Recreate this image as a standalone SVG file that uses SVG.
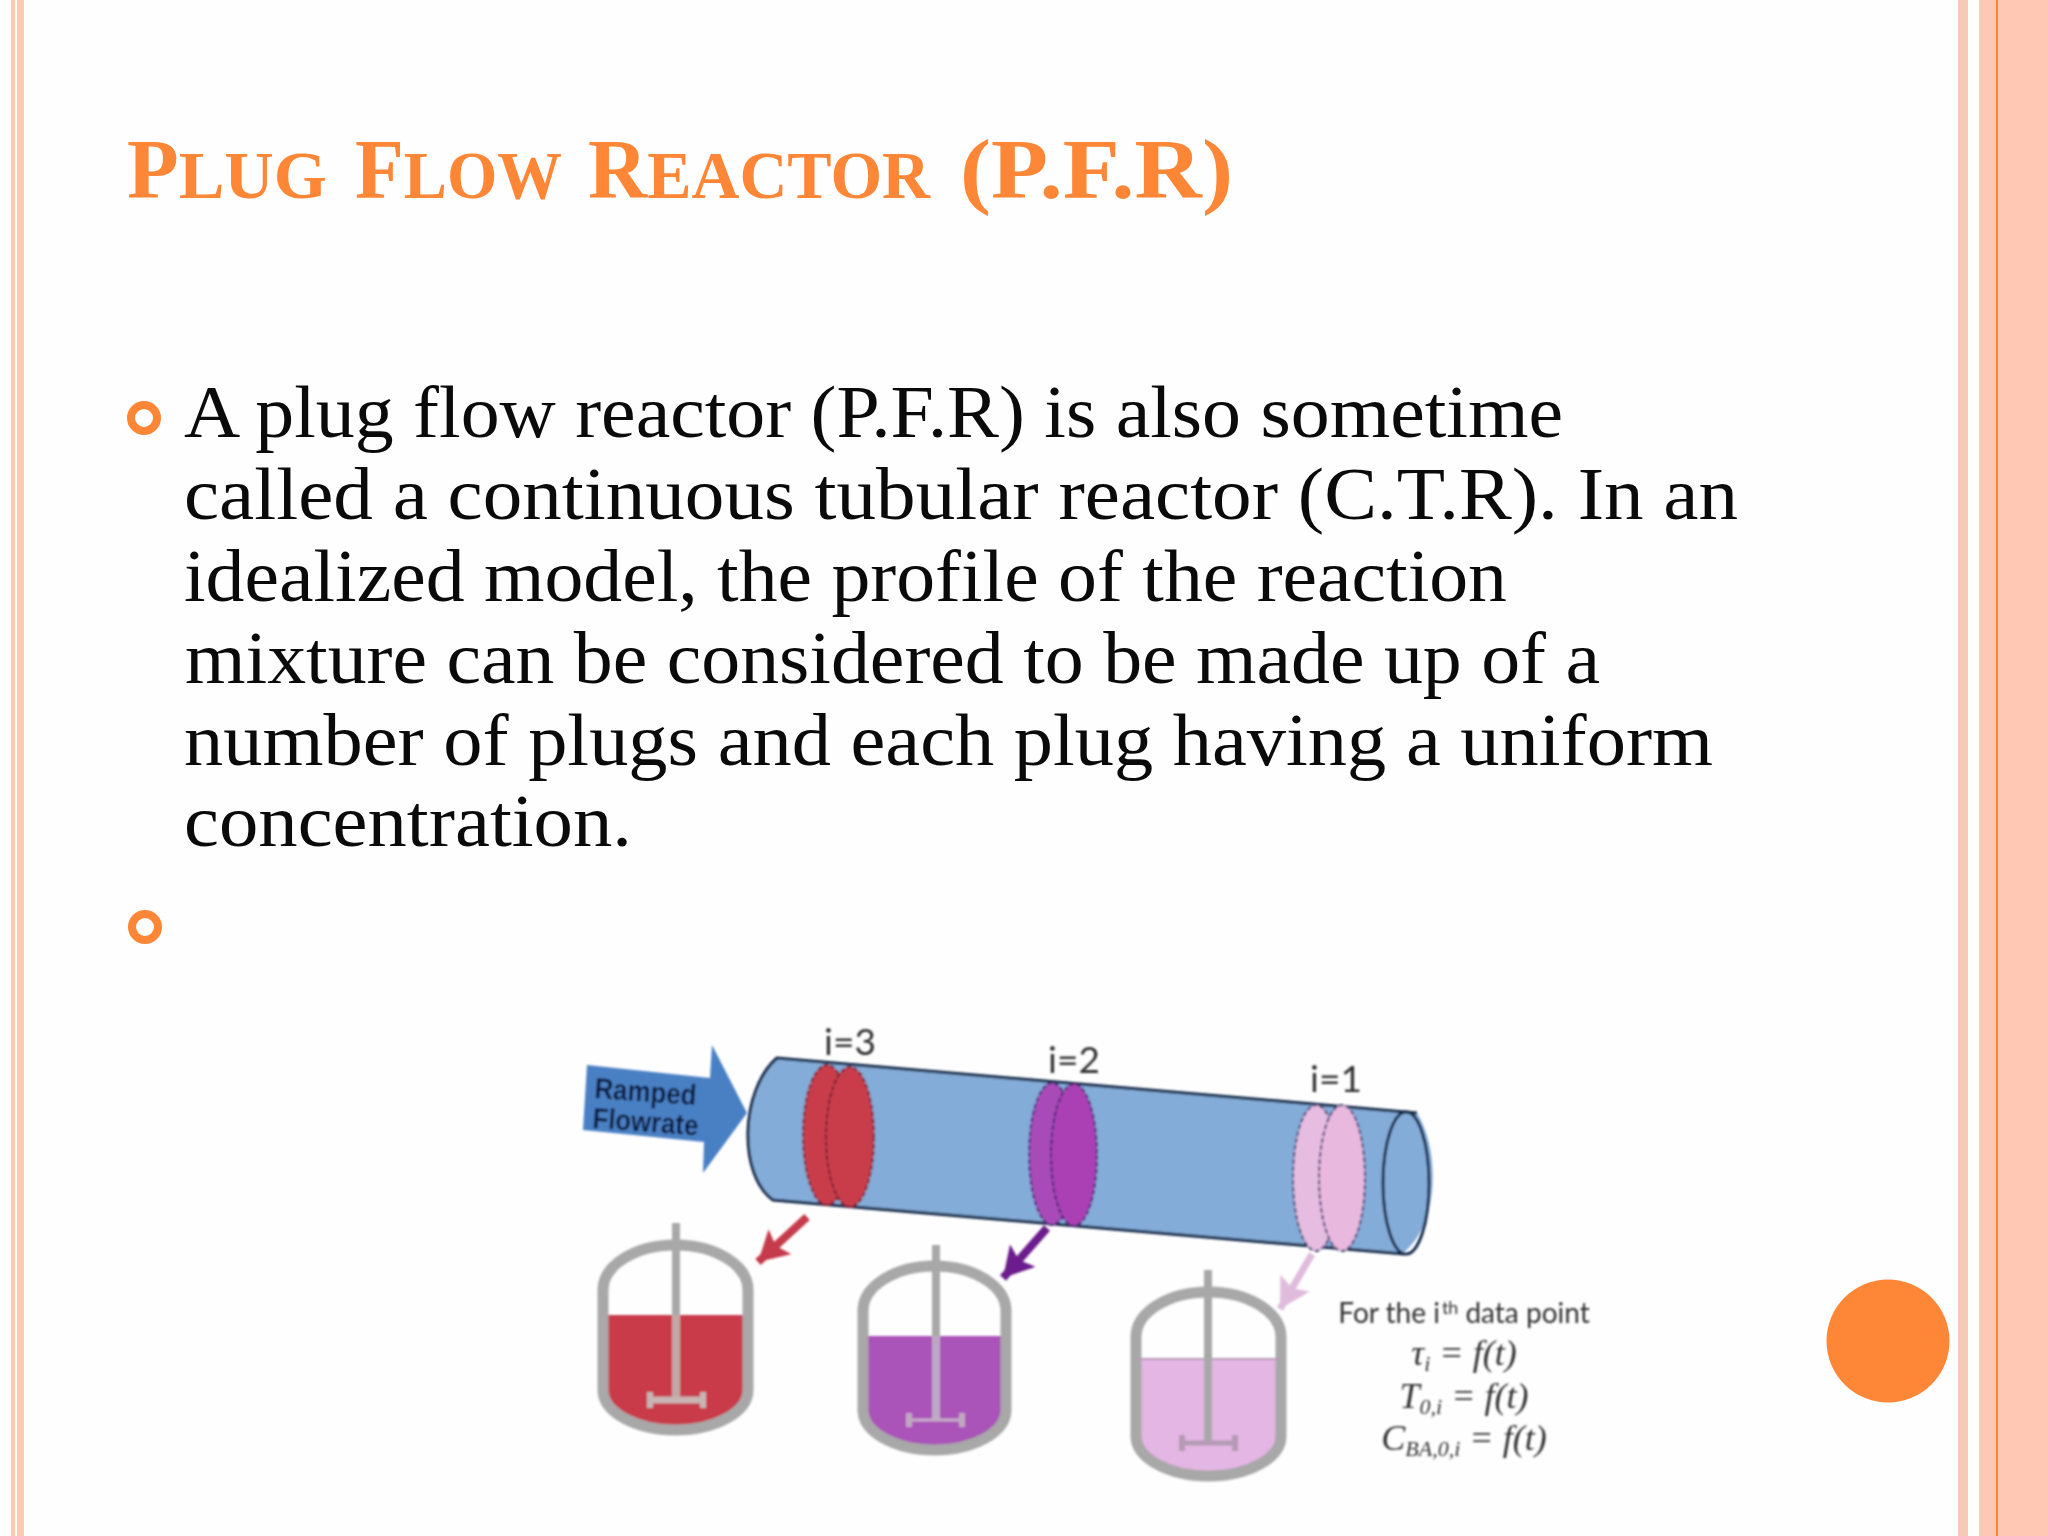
<svg xmlns="http://www.w3.org/2000/svg" width="2048" height="1536" viewBox="0 0 2048 1536">
<style>
.band{fill:#ffc8b4}
.title{font-family:"Liberation Serif",serif;font-weight:700;fill:#fe8637;font-size:84px}
.sc{font-size:68px}
.body{font-family:"Liberation Serif",serif;font-size:74px;fill:#0a0a0a}
.bullet{fill:none;stroke:#fe8637;stroke-width:8}
.lab{font-family:Lato,"Liberation Sans",sans-serif;fill:#333;font-size:37px;text-anchor:middle}
.rf{font-family:"Liberation Sans",sans-serif;font-weight:700;font-size:29px;fill:#0c1e42}
.note{font-family:Lato,"Liberation Sans",sans-serif;font-size:28px;fill:#333;text-anchor:middle}
.math{font-family:"Liberation Serif",serif;font-style:italic;font-size:36px;fill:#333;text-anchor:middle}
.sub{font-size:22px}
.sup{font-size:18px}
.wall{fill:none;stroke:#a8a8a8;stroke-width:11}
.shaft{stroke:#a8a8a8;stroke-width:8;fill:none}
.tube{fill:#84acd8}
.edge{fill:none;stroke:#14294a;stroke-width:3}
</style>
<defs>
<filter id="soft" x="-5%" y="-5%" width="110%" height="110%"><feGaussianBlur stdDeviation="0.9"/></filter>
<marker id="hRed" markerUnits="userSpaceOnUse" markerWidth="36" markerHeight="36" refX="30" refY="17" orient="auto"><path d="M0 0L30 17L0 34L6 17Z" fill="#c63a4c"/></marker>
<marker id="hPur" markerUnits="userSpaceOnUse" markerWidth="36" markerHeight="36" refX="30" refY="17" orient="auto"><path d="M0 0L30 17L0 34L6 17Z" fill="#6c1f8c"/></marker>
<marker id="hPnk" markerUnits="userSpaceOnUse" markerWidth="36" markerHeight="36" refX="30" refY="17" orient="auto"><path d="M0 0L30 17L0 34L6 17Z" fill="#e0bcdc"/></marker>
</defs>
<rect width="2048" height="1536" fill="#fefefe"/>
<g id="frame">
<rect class="band" x="11" y="0" width="4" height="1536"/>
<rect class="band" x="17" y="0" width="7" height="1536"/>
<rect x="1958" y="0" width="10" height="1536" fill="#f9c9b8"/>
<rect class="band" x="1979" y="0" width="69" height="1536"/>
<rect x="1996" y="0" width="2" height="1536" fill="#fe8637"/>
<circle cx="1888" cy="1341" r="61.500" fill="#fe8637"/>
</g>
<g id="title">
<text class="title" x="127" y="198" textLength="200" lengthAdjust="spacingAndGlyphs">P<tspan class="sc">LUG</tspan></text>
<text class="title" x="355" y="198" textLength="207" lengthAdjust="spacingAndGlyphs">F<tspan class="sc">LOW</tspan></text>
<text class="title" x="588" y="198" textLength="342" lengthAdjust="spacingAndGlyphs">R<tspan class="sc">EACTOR</tspan></text>
<text class="title" x="960" y="198" textLength="273" lengthAdjust="spacingAndGlyphs">(P.F.R)</text>
</g>
<g id="body">
<circle class="bullet" cx="144" cy="418" r="13"/>
<circle class="bullet" cx="145" cy="927" r="13"/>
<text class="body" x="184" y="437" textLength="1379" lengthAdjust="spacingAndGlyphs">A plug flow reactor (P.F.R) is also sometime</text>
<text class="body" x="184" y="519" textLength="1554" lengthAdjust="spacingAndGlyphs">called a continuous tubular reactor (C.T.R). In an</text>
<text class="body" x="184" y="601" textLength="1323" lengthAdjust="spacingAndGlyphs">idealized model, the profile of the reaction</text>
<text class="body" x="185" y="683" textLength="1415" lengthAdjust="spacingAndGlyphs">mixture can be considered to be made up of a</text>
<text class="body" x="184" y="765" textLength="1529" lengthAdjust="spacingAndGlyphs">number of plugs and each plug having a uniform</text>
<text class="body" x="184" y="846" textLength="448" lengthAdjust="spacingAndGlyphs">concentration.</text>
</g>
<g id="figure" filter="url(#soft)">
<g id="feed-arrow">
<path d="M587 1065L710 1078L712 1045L747 1113L703 1173L704 1142L583 1130Z" fill="#4a80c4"/>
<text class="rf" transform="translate(594 1098) rotate(4)" textLength="102" lengthAdjust="spacingAndGlyphs">Ramped</text>
<text class="rf" transform="translate(592 1128) rotate(4)" textLength="106" lengthAdjust="spacingAndGlyphs">Flowrate</text>
</g>
<g id="tube">
<path class="tube" d="M777 1058L1417 1113C1440 1150 1440 1225 1402 1254L773 1200C740 1175 740 1090 777 1058Z"/>
<path class="edge" d="M1404 1254L773 1200C738 1175 740 1090 777 1058L1417 1113"/>
<ellipse class="edge" cx="1406" cy="1183" rx="23" ry="71"/>
</g>
<g id="plug-3">
<ellipse cx="827" cy="1135" rx="24" ry="70" fill="#c93c4c" stroke="#7a2233" stroke-width="2" stroke-dasharray="5 2"/>
<ellipse cx="850" cy="1137" rx="24" ry="70" fill="#c93c4c" stroke="#7a2233" stroke-width="2" stroke-dasharray="5 2"/>
</g>
<g id="plug-2">
<ellipse cx="1052" cy="1154" rx="23" ry="71" fill="#a84cb8" stroke="#4b2a78" stroke-width="2" stroke-dasharray="5 2"/>
<ellipse cx="1074" cy="1155" rx="23" ry="71" fill="#ab3fb4" stroke="#4b2a78" stroke-width="2" stroke-dasharray="5 2"/>
</g>
<g id="plug-1">
<ellipse cx="1316" cy="1178" rx="23" ry="73" fill="#e6bce0" stroke="#4b4a78" stroke-width="2" stroke-dasharray="5 2"/>
<ellipse cx="1342" cy="1178" rx="23" ry="73" fill="#e9b8de" stroke="#4b4a78" stroke-width="2" stroke-dasharray="5 2"/>
</g>
<g id="labels">
<text class="lab" x="850" y="1055">i=3</text>
<text class="lab" x="1074" y="1073">i=2</text>
<text class="lab" x="1336" y="1092">i=1</text>
</g>
<g id="connectors">
<line x1="807" y1="1217" x2="758" y2="1262" stroke="#c63a4c" stroke-width="8" marker-end="url(#hRed)"/>
<line x1="1047" y1="1228" x2="1003" y2="1278" stroke="#6c1f8c" stroke-width="8" marker-end="url(#hPur)"/>
<line x1="1312" y1="1254" x2="1280" y2="1309" stroke="#e0bcdc" stroke-width="7" marker-end="url(#hPnk)"/>
</g>
<g id="vessel-3">
<path d="M603 1315H748V1390A72.500 40 0 0 1 603 1390Z" fill="#c93a4a"/>
<path class="wall" d="M603 1290A72.500 45 0 0 1 748 1290V1390A72.500 40 0 0 1 603 1390Z"/>
<path class="shaft" d="M676 1223V1315"/><path class="shaft" style="stroke:#c4a8a8" d="M676 1315V1400"/><path d="M650 1400H703" stroke="#c8b4b4" stroke-width="7"/><path d="M650 1392V1408M703 1392V1408" stroke="#c8b4b4" stroke-width="6"/>
</g>
<g id="vessel-2">
<path d="M863 1336H1006V1410A71.500 40 0 0 1 863 1410Z" fill="#aa52b8"/>
<path class="wall" d="M863 1311A71.500 45 0 0 1 1006 1311V1410A71.500 40 0 0 1 863 1410Z"/>
<path class="shaft" d="M936 1245V1336"/><path class="shaft" style="stroke:#bda8c4" d="M936 1336V1420"/><path d="M909 1420H962" stroke="#c8b0c8" stroke-width="3"/><path d="M909 1413V1427M962 1413V1427" stroke="#c0a8c0" stroke-width="6"/>
</g>
<g id="vessel-1">
<path d="M1136 1359H1281V1436A72.500 40 0 0 1 1136 1436Z" fill="#e3b6e3"/>
<path class="wall" d="M1136 1337A72.500 45 0 0 1 1281 1337V1436A72.500 40 0 0 1 1136 1436Z"/>
<path d="M1136 1359H1281" stroke="#b89ab8" stroke-width="2"/>
<path class="shaft" d="M1208 1270V1443"/><path d="M1181 1443H1236" stroke="#b49ab4" stroke-width="5"/><path d="M1182 1435V1451M1235 1435V1451" stroke="#b49ab4" stroke-width="6"/>
</g>
<g id="note">
<text class="note" x="1464" y="1323">For the i<tspan class="sup" dx="2" dy="-9">th</tspan><tspan dx="7" dy="9">data point</tspan></text>
<text class="math" x="1464" y="1365">τ<tspan class="sub" dy="6">i</tspan><tspan dy="-6"> = f(t)</tspan></text>
<text class="math" x="1464" y="1408">T<tspan class="sub" dy="6">0,i</tspan><tspan dy="-6"> = f(t)</tspan></text>
<text class="math" x="1464" y="1450">C<tspan class="sub" dy="6">BA,0,i</tspan><tspan dy="-6"> = f(t)</tspan></text>
</g>
</g>
</svg>
